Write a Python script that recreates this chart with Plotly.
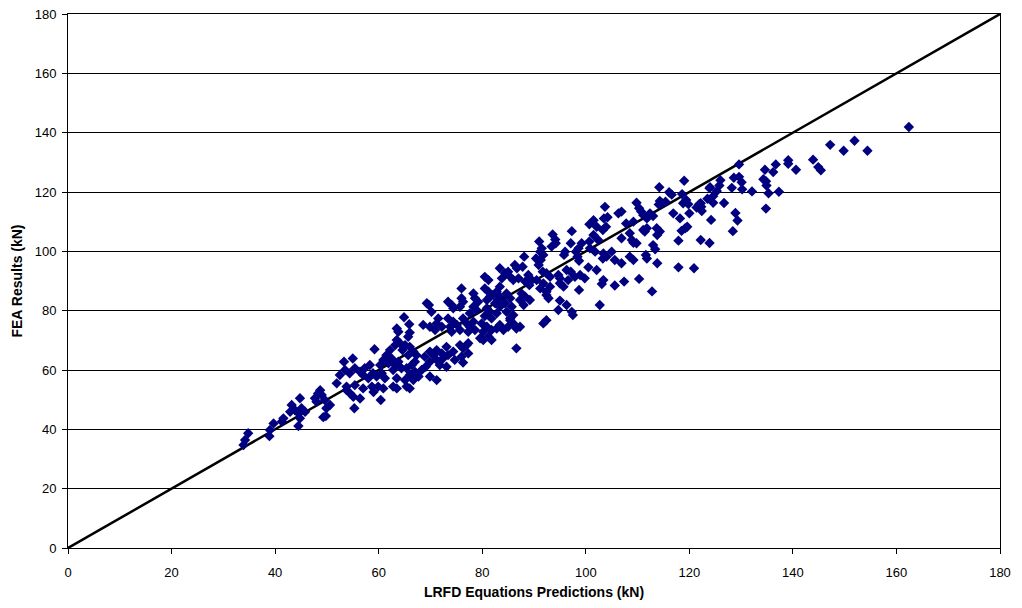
import plotly.graph_objects as go

# (LRFD prediction, FEA result) pairs in kN
points = [
(162.4,141.9),(147.2,135.9),(151.9,137.3),(149.8,133.9),(154.4,133.9),(143.9,130.9),(144.9,128.4),(145.4,127.3),(139.1,130.7),(139.1,129.5),(140.6,127.5),(136.7,129.3),(136.2,126.7),(134.6,127.5),(134.3,124.3),(134.8,123.6),(134.9,122.2),(135.3,119.6),(137.3,120.1),(134.8,114.4),(132.1,120.2),(129.6,129.3),(128.6,124.8),(129.6,125.1),(130.1,123.3),(130.2,120.9),(126.0,124.0),(125.8,122.2),(125.3,120.3),(128.2,121.4),(123.9,121.3),(124.6,118.6),(123.5,117.7),(124.6,116.4),(126.7,116.3),(122.2,116.2),(122.4,113.6),(128.9,112.9),(129.3,110.4),(124.2,110.6),(128.4,106.8),(122.2,103.8),(123.9,102.8),
(119.0,123.8),(114.2,121.6),(124.0,121.6),(116.1,119.9),(116.6,119.1),(118.6,119.3),(119.4,117.3),(119.8,115.9),(118.8,116.2),(114.3,117.0),(114.1,115.8),(115.4,116.7),(114.7,116.2),(121.9,115.9),(121.4,114.8),(122.3,115.0),(109.8,116.4),(110.3,114.5),(110.7,113.4),(103.7,115.0),(103.5,111.1),(104.2,111.5),(103.9,108.3),(103.3,107.2),(106.3,112.8),(106.9,113.4),(107.8,109.4),(109.2,110.0),(111.1,112.2),(112.4,112.8),(113.0,111.9),(111.8,111.1),(116.9,112.8),(118.2,111.1),(120.0,112.8),(119.6,108.3),(118.5,106.9),(119.2,107.8),(106.9,104.4),(108.5,106.1),(108.9,103.8),(109.2,102.9),(109.8,102.7),(111.1,107.2),(111.8,107.8),(111.4,106.7),(113.7,107.8),(114.3,106.7),(113.8,105.5),(113.0,102.1),(113.4,100.7),(117.9,103.6),(105.6,97.1),(103.4,99.3),(104.0,98.2),(103.3,97.6),(105.0,99.9),(106.9,96.0),(108.5,98.2),(109.2,97.1),(111.6,98.8),(111.8,97.6),(113.8,96.0),(117.9,94.6),(120.9,94.3),(103.4,90.3),(103.1,89.0),(105.6,88.5),(107.4,89.8),(110.3,90.7),(112.8,86.5),(102.7,81.9),
(100.7,109.1),(101.5,110.5),(102.1,108.3),(97.3,106.8),(93.6,105.7),(94.1,104.0),(94.2,102.7),(93.4,101.6),(91.0,103.3),(91.5,101.0),(97.1,102.7),(99.2,102.7),(98.6,101.0),(100.7,103.3),(101.5,105.5),(102.4,103.8),(96.0,99.9),(95.8,98.8),(98.1,99.9),(98.4,98.2),(98.7,96.8),(100.8,101.0),(101.8,99.9),(91.2,99.9),(91.8,98.8),(90.4,97.6),(91.3,97.1),(90.9,95.4),(88.1,98.2),(87.8,94.8),(86.3,95.4),(86.7,94.3),(85.0,93.1),(84.4,92.6),(85.4,91.4),(86.0,90.3),(87.0,90.9),(83.4,94.3),(83.8,90.9),(83.4,88.1),(88.9,92.0),(89.6,90.3),(89.1,88.6),(88.3,89.8),(91.7,93.1),(92.4,92.6),(93.1,91.4),(95.0,90.9),(94.7,92.0),(96.3,93.7),(97.1,93.1),(97.9,91.4),(98.9,92.0),(99.8,90.9),(100.5,94.6),(102.1,93.7),(91.8,89.2),(93.1,88.1),(91.2,87.5),(92.4,86.4),(90.5,90.3),(95.0,89.2),(95.7,88.1),(96.6,90.3),(98.7,87.0),(92.4,85.3),(92.8,84.2),(95.0,83.4),(96.3,81.9),(94.7,80.2),(97.3,79.6),(84.7,85.8),(85.4,84.2),(84.4,82.5),(85.7,81.3),(83.4,81.3),(84.7,79.6),(86.0,78.5),(85.4,77.4),(87.6,85.8),(88.3,84.7),(87.3,83.6),(88.0,81.9),(89.2,83.6),(83.4,84.7),(97.5,78.5),
(80.5,91.4),(81.2,90.3),(76.0,87.5),(78.3,85.8),(78.6,84.2),(79.2,83.0),(80.5,87.5),(81.2,86.4),(81.5,84.7),(80.9,83.6),(82.1,85.3),(82.8,86.4),(83.1,83.6),(82.5,82.5),(73.4,83.0),(74.1,81.9),(74.4,80.8),(70.2,79.6),(69.3,82.5),(76.0,84.2),(76.3,83.0),(75.7,81.3),(78.3,81.3),(78.9,80.2),(77.6,79.1),(80.9,80.8),(81.5,79.6),(80.5,78.2),(81.8,77.4),(82.8,79.1),(71.5,77.4),(71.2,75.7),(72.2,74.6),(70.9,73.5),(69.9,74.6),(68.6,75.2),(73.4,77.4),(74.4,76.3),(73.8,74.6),(75.1,75.2),(74.1,72.9),(75.7,73.5),(76.3,77.4),(77.0,75.7),(77.6,74.6),(77.3,72.9),(78.6,73.5),(78.3,76.3),(79.9,75.7),(80.9,74.6),(80.2,72.9),(81.8,73.5),(82.8,74.0),(83.4,75.2),(84.1,73.5),(85.4,76.8),(85.0,74.6),(86.0,75.7),(86.6,74.0),(87.3,74.6),(79.6,70.7),(80.2,70.1),(81.2,71.2),(81.8,70.1),(77.0,68.4),(77.3,69.0),(86.6,67.3),(91.8,75.7),(92.4,76.8),
(64.9,77.8),(65.9,75.4),(63.5,74.0),(63.8,72.9),(66.0,72.6),(65.7,71.2),(63.5,70.1),(64.1,69.0),(63.2,68.4),(65.1,68.4),(64.6,66.7),(66.0,67.8),(66.7,66.2),(65.7,65.0),(67.3,65.0),(59.2,67.0),(62.2,66.7),(61.5,65.0),(62.5,63.9),(60.9,63.4),(61.9,62.3),(60.3,61.7),(63.2,61.7),(63.8,62.8),(64.4,60.6),(62.8,60.0),(65.4,60.6),(66.4,61.7),(67.0,62.8),(53.3,62.8),(55.0,63.9),(53.5,60.0),(52.5,58.3),(55.4,60.6),(54.4,58.9),(56.4,59.4),(57.3,60.6),(58.3,61.7),(57.0,58.3),(58.9,58.9),(58.0,57.2),(59.6,57.8),(60.6,58.9),(61.2,57.2),(63.5,57.2),(65.1,56.6),(66.0,58.3),(67.0,59.4),(68.3,60.0),(69.1,61.1),(67.7,57.8),(66.7,56.6),(51.9,55.5),(53.8,54.4),(55.4,54.9),(57.0,53.8),(58.7,54.4),(59.9,54.4),(60.9,53.8),(62.8,54.4),(63.5,53.8),(65.4,54.4),(66.0,53.8),(76.3,62.5),(68.9,64.5),(69.9,66.2),(70.6,65.0),(71.2,66.7),(72.2,65.6),(73.1,67.8),(69.9,62.8),(71.2,63.4),(72.4,63.9),(73.4,65.0),(74.4,66.2),(75.7,68.4),(76.3,67.3),(71.8,61.7),(73.1,61.1),(74.7,63.4),(76.0,64.5),(77.3,65.6),(69.9,57.8),(71.2,56.6),(69.7,81.9),
(54.5,52.1),(55.1,51.0),(60.4,49.9),(59.0,52.6),(56.4,50.4),(55.3,47.1),(53.8,53.2),(48.7,53.2),(48.3,52.1),(49.0,51.6),(47.7,50.5),(48.0,49.3),(49.6,49.9),(50.6,48.2),(49.9,47.1),(49.3,44.1),(49.8,44.5),(44.8,50.5),(43.2,48.2),(43.8,46.5),(45.1,47.1),(45.8,45.9),(44.5,45.4),(42.9,45.9),(44.8,43.7),(44.5,41.1),(41.6,43.7),(41.3,42.6),(39.7,42.0),(39.0,39.8),(34.8,38.7),(34.2,36.4),(33.9,34.7),(38.9,37.7),
]
lrfd = [p[0] for p in points]
fea = [p[1] for p in points]

# 1:1 reference line endpoints
line_x = [0, 180]
line_y = [0, 180]

tick_vals = [0, 20, 40, 60, 80, 100, 120, 140, 160, 180]

fig = go.Figure()
fig.add_trace(go.Scatter(x=line_x, y=line_y, mode="lines",
                         line=dict(color="black", width=2.5), hoverinfo="skip"))
fig.add_trace(go.Scatter(x=lrfd, y=fea, mode="markers",
                         marker=dict(symbol="diamond", size=8, color="#000080",
                                     line=dict(width=0))))

font = dict(family="Liberation Sans, Arial, sans-serif", size=13, color="black")
fig.update_layout(
    width=1022, height=608,
    margin=dict(l=68, r=22, t=14, b=60, autoexpand=False),
    paper_bgcolor="white", plot_bgcolor="white",
    showlegend=False,
    font=font,
    xaxis=dict(range=[0, 180], tickvals=tick_vals, showgrid=False, zeroline=False,
               showline=True, linecolor="black", linewidth=1, mirror=True,
               ticks="outside", ticklen=5, tickcolor="black", automargin=False,
               ticklabelstandoff=7,
               title=dict(text="<b>LRFD Equations Predictions (kN)</b>", standoff=8,
                          font=dict(size=14))),
    yaxis=dict(range=[0, 180], tickvals=tick_vals, showgrid=True, gridcolor="black",
               gridwidth=1, zeroline=False,
               showline=True, linecolor="black", linewidth=1, mirror=True,
               ticks="outside", ticklen=5, tickcolor="black", automargin=False,
               ticklabelstandoff=3,
               title=dict(text="<b>FEA Results (kN)</b>", standoff=8,
                          font=dict(size=14))),
)

fig.write_html("out.html")
